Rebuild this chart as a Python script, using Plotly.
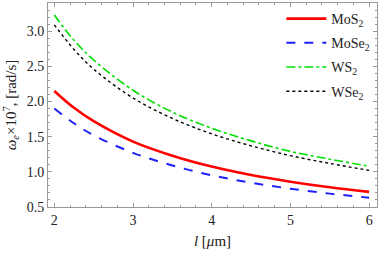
import plotly.graph_objects as go

l_um = [2.0, 2.25, 2.5, 3.0, 3.5, 4.0, 4.5, 5.0, 5.5, 6.0]
mos2 = [2.15, 1.91, 1.72, 1.43, 1.23, 1.075, 0.955, 0.86, 0.78, 0.715]
mose2 = [1.90, 1.69, 1.52, 1.27, 1.09, 0.95, 0.845, 0.76, 0.69, 0.633]
ws2 = [3.23, 2.87, 2.59, 2.16, 1.85, 1.62, 1.44, 1.29, 1.18, 1.08]
wse2 = [3.09, 2.74, 2.46, 2.05, 1.76, 1.54, 1.37, 1.23, 1.12, 1.02]

names = ["MoS<sub>2</sub>", "MoSe<sub>2</sub>", "WS<sub>2</sub>", "WSe<sub>2</sub>"]
series = [mos2, mose2, ws2, wse2]
colors = ["#ff0000", "#1f1fff", "#00e000", "#000000"]
dashes = ["solid", "dash", "dashdot", "dot"]
widths = [2.6, 2.0, 1.6, 1.4]

fig = go.Figure()
for i, (n, s, c, d, w) in enumerate(zip(names, series, colors, dashes, widths)):
    fig.add_trace(go.Scatter(x=l_um, y=s, mode="lines", name=n, legendgroup=f"g{i}",
                             line=dict(color=c, dash=d, width=w, shape="spline")))

font = "Liberation Serif, Times New Roman, serif"
axis_common = dict(showline=True, linecolor="#9a9a9a", linewidth=1, mirror="ticks",
                   ticks="inside", ticklen=4, tickcolor="#9a9a9a", showgrid=False,
                   zeroline=False, automargin=False,
                   tickfont=dict(family=font, size=14, color="#222"))
fig.update_xaxes(range=[1.92, 6.1], tickvals=[2, 3, 4, 5, 6],
                 minor=dict(ticks="inside", ticklen=2, tickcolor="#9a9a9a", dtick=0.2, tick0=2),
                 title=dict(text="<i>l</i> [<i>μ</i>m]", font=dict(family=font, size=15, color="#222"), standoff=8),
                 **axis_common)
fig.update_yaxes(range=[0.5, 3.4], tickvals=[0.5, 1.0, 1.5, 2.0, 2.5, 3.0], ticktext=["0.5", "1.0", "1.5", "2.0", "2.5", "3.0"],
                 minor=dict(ticks="inside", ticklen=2, tickcolor="#9a9a9a", dtick=0.1, tick0=0.5),
                 title=dict(text="<i>ω<sub>e</sub></i>×10<sup>7</sup>, [rad/s]", font=dict(family=font, size=15, color="#222"), standoff=6),
                 **axis_common)
fig.update_layout(width=382, height=254, margin=dict(l=48, r=5, t=3, b=47),
                  plot_bgcolor="white", paper_bgcolor="white",
                  legend=dict(x=0.995, y=1.0, xanchor="right", yanchor="top", bgcolor="rgba(0,0,0,0)",
                              font=dict(family=font, size=14, color="#222"), tracegroupgap=3, itemwidth=40),
                  showlegend=True)
fig.write_html("out.html", config={"displayModeBar": False},
               post_script="document.body.style.margin='0';document.body.style.overflow='hidden';")
